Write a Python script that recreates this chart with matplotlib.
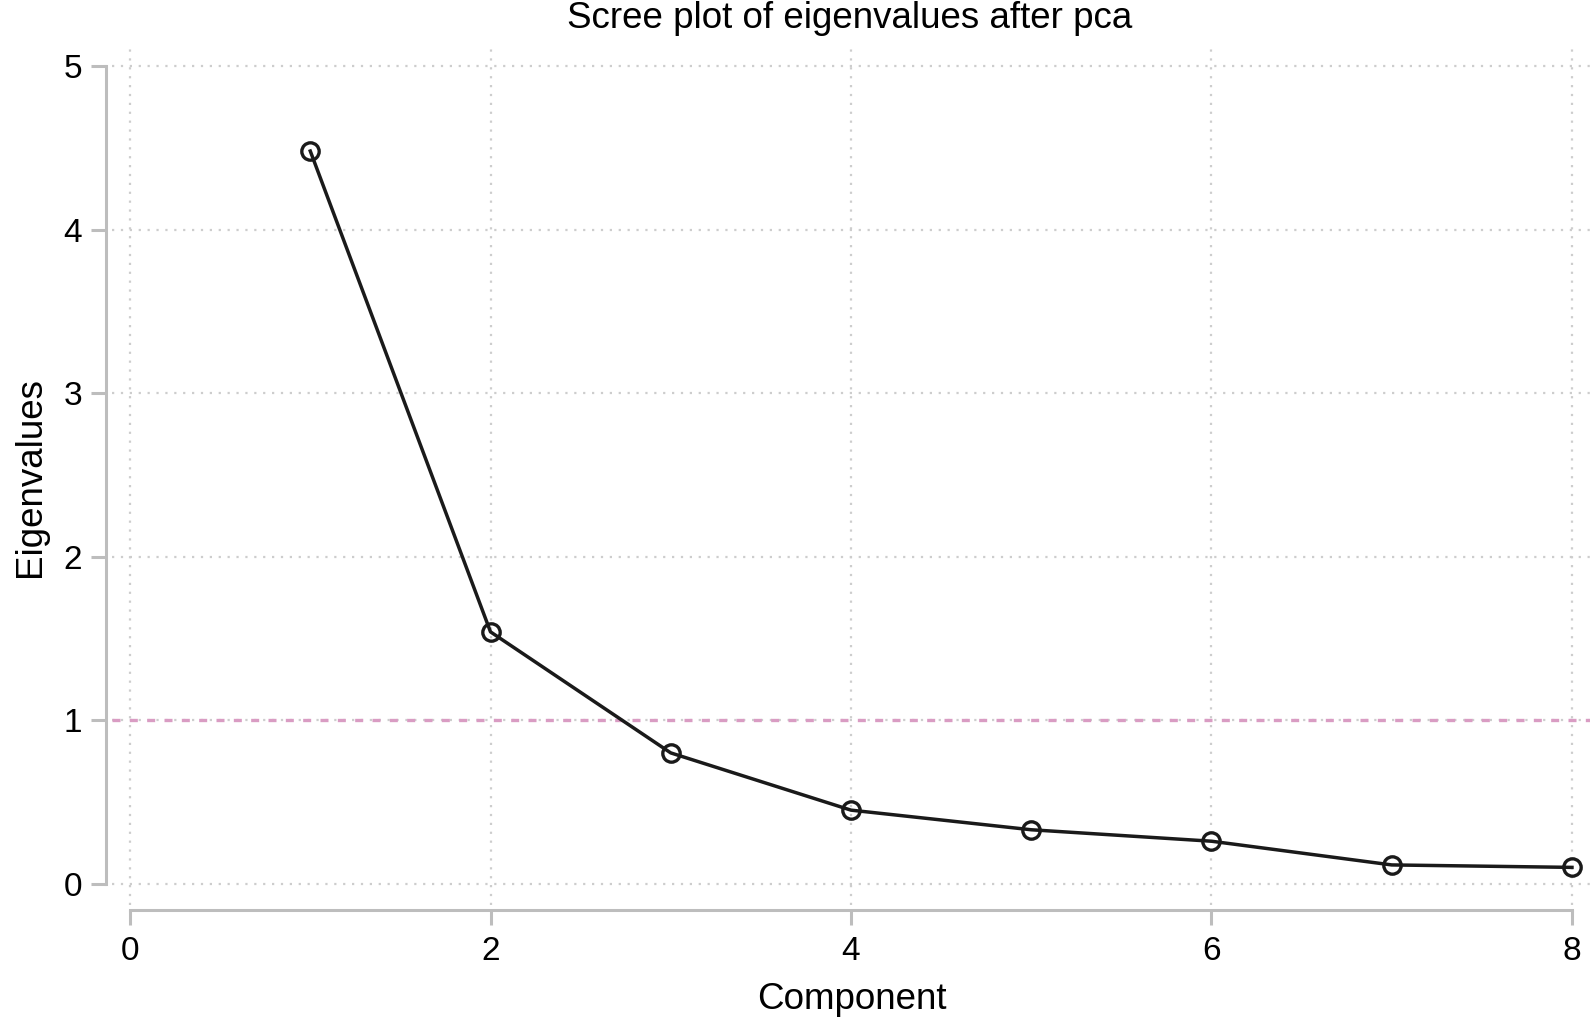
import matplotlib
matplotlib.use("Agg")
import matplotlib.pyplot as plt

components = [1, 2, 3, 4, 5, 6, 7, 8]
eigenvalues = [4.48, 1.54, 0.80, 0.45, 0.33, 0.26, 0.115, 0.10]
xticks = [0, 2, 4, 6, 8]
yticks = [0, 1, 2, 3, 4, 5]
ref_value = 1.0
title = "Scree plot of eigenvalues after pca"
xlabel = "Component"
ylabel = "Eigenvalues"

plt.rcParams['font.family'] = ['Liberation Sans', 'DejaVu Sans']

W, H = 1594, 1021
fig = plt.figure(figsize=(W / 100, H / 100), dpi=100)
L, R, T, B = 112, 1590, 48, 905
ax = fig.add_axes([L / W, 1 - B / H, (R - L) / W, (B - T) / H])

ax.set_xlim(-0.1, 8.1)
ax.set_ylim(-0.13, 5.11)

grid_col = '#cdcdcd'
for y in yticks:
    ax.axhline(y, color=grid_col, lw=1.6, ls=(0, (1, 3.0)), zorder=1)
for x in xticks:
    ax.axvline(x, color=grid_col, lw=1.6, ls=(0, (1, 3.0)), zorder=1)

ax.axhline(ref_value, color='#d99cc3', lw=2.4, ls=(0, (2.4, 2.8)), zorder=2)

ax.plot(components, eigenvalues, color='#1a1a1a', lw=2.5, marker='o',
        markersize=12.5, markerfacecolor='none', markeredgecolor='#1a1a1a',
        markeredgewidth=2.4, zorder=3)

for s in ['top', 'right']:
    ax.spines[s].set_visible(False)
spine_col = '#bdbdbd'
ax.spines['left'].set_position(('outward', 4.5))
ax.spines['bottom'].set_position(('outward', 3.6))
ax.spines['left'].set_bounds(0, 5)
ax.spines['bottom'].set_bounds(0, 8)
for s in ['left', 'bottom']:
    ax.spines[s].set_color(spine_col)
    ax.spines[s].set_linewidth(2.2)

ax.set_xticks(xticks)
ax.set_yticks(yticks)
ax.tick_params(axis='both', colors=spine_col, length=11, width=2.2,
               labelcolor='black', labelsize=24)
ax.tick_params(axis='y', pad=6)
ax.tick_params(axis='x', pad=8)

fig.text(850 / W, 1 - 28 / H, title, ha='center', va='baseline', fontsize=26.5)
fig.text(852 / W, 1 - 1009 / H, xlabel, ha='center', va='baseline', fontsize=26.5)
fig.text(31 / W, 1 - 477 / H, ylabel, ha='center', va='center', fontsize=26.5,
         rotation=90)

fig.savefig('out.png', dpi=100)
